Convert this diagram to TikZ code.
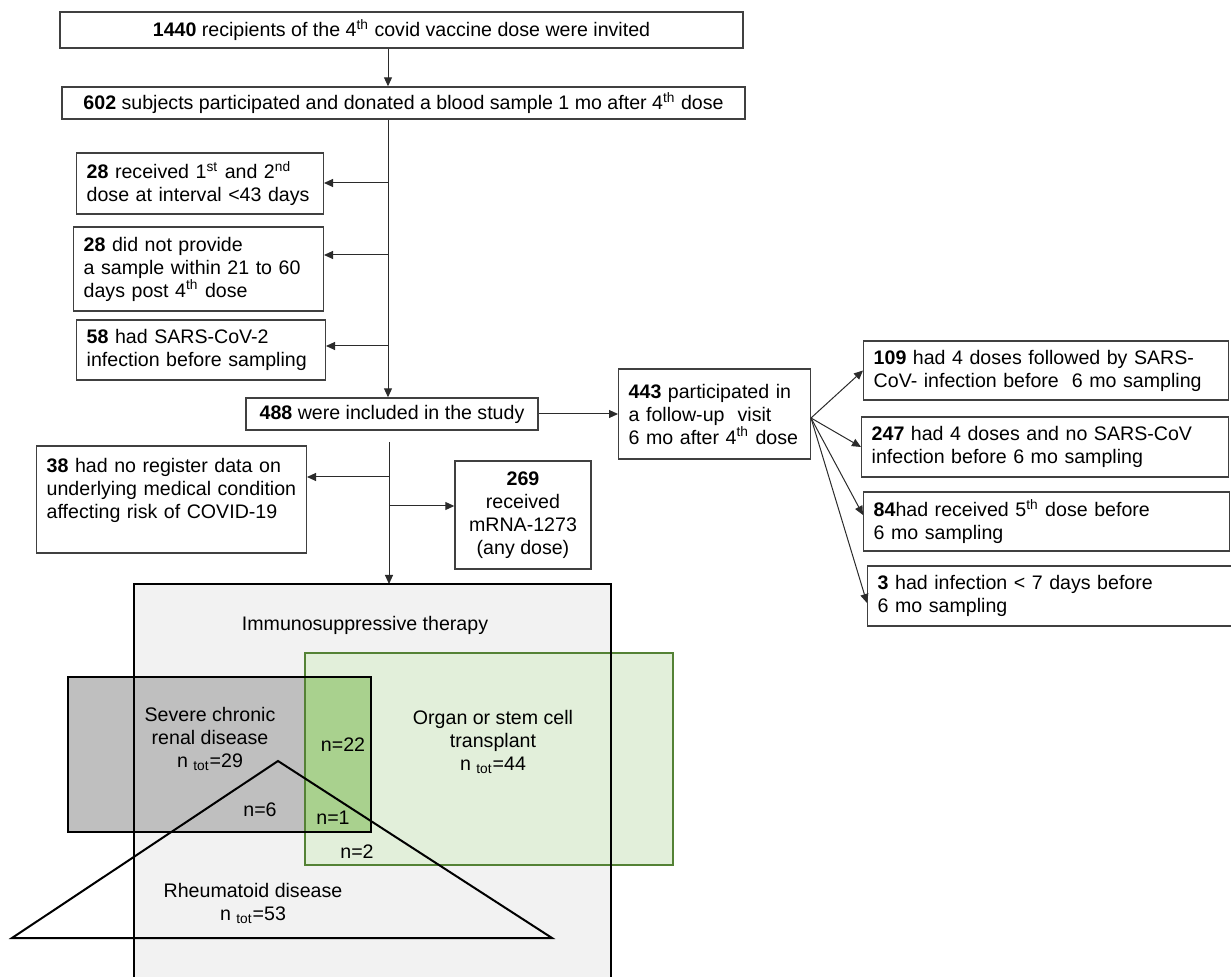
\documentclass[tikz,border=0pt]{standalone}
\usepackage{fontspec}
\setmainfont{Liberation Sans}
\usetikzlibrary{arrows.meta,positioning,calc}
\definecolor{Frame}{HTML}{404040}
\definecolor{Wire}{HTML}{2B2B2B}
\definecolor{ImmuneFill}{HTML}{F2F2F2}
\definecolor{RenalFill}{HTML}{BFBFBF}
\definecolor{GraftFill}{HTML}{E2EFDA}
\definecolor{GraftDark}{HTML}{A9D18E}
\definecolor{GraftLine}{HTML}{548235}
\newcommand{\flowfont}{\fontsize{9.8}{11.5}\selectfont}
\newcommand{\ordsup}[1]{\textsuperscript{#1}}

\begin{document}
\begin{tikzpicture}[x=0.5pt,y=-0.5pt,
  flowbox/.style={draw=Frame,line width=0.7pt,fill=white,font=\flowfont,inner xsep=5pt,inner ysep=2pt},
  leftbox/.style={flowbox,align=left},
  midbox/.style={flowbox,align=center},
  wire/.style={draw=Wire,line width=0.5pt},
  arr/.style={wire,-{Triangle[length=4.5pt,width=4pt]}},
  venntext/.style={font=\flowfont,align=center,inner sep=0pt}]
\useasboundingbox (0,0) rectangle (1231,977);

% main flow
\node[midbox,minimum width=341.5pt,minimum height=18pt] (invited) at (401.5,30) {\textbf{1440} recipients of the 4\ordsup{th} covid vaccine dose were invited};
\node[midbox,minimum width=341.5pt,minimum height=16pt] (donated) at (403.5,103) {\textbf{602} subjects participated and donated a blood sample 1 mo after 4\ordsup{th} dose};
\node[leftbox,text width=113.3pt,minimum height=30.5pt] (interval) at (200,183.5) {\textbf{28} received 1\ordsup{st} and 2\ordsup{nd}\\dose at interval <43 days};
\node[leftbox,text width=114.8pt,minimum height=42pt] (window) at (198.5,269) {\textbf{28} did not provide\\a sample within 21 to 60\\days post 4\ordsup{th} dose};
\node[leftbox,text width=114.3pt,minimum height=30pt] (infected) at (201,350) {\textbf{58} had SARS-CoV-2\\infection before sampling};
\node[midbox,minimum width=146pt,minimum height=16pt] (included) at (392,414) {\textbf{488} were included in the study};

% second level
\node[leftbox,text width=85.8pt,minimum height=45pt] (followup) at (714.5,414) {\textbf{443} participated in\\a follow-up\ \ visit\\6 mo after 4\ordsup{th} dose};
\node[leftbox,text width=124.8pt,minimum height=53.5pt] (noregister) at (171.5,499.5) {\textbf{38} had no register data on\\underlying medical condition\\affecting risk of COVID-19\\\mbox{}};
\node[midbox,minimum width=68pt,minimum height=54pt] (moderna) at (523,515) {\textbf{269}\\received\\mRNA-1273\\(any dose)};

% 6 mo outcomes
\node[leftbox,text width=172.3pt,minimum height=29.5pt] (breakthrough) at (1046,370.5) {\textbf{109} had 4 doses followed by SARS-\\CoV- infection before\ \ 6 mo sampling};
\node[leftbox,text width=173.3pt,minimum height=30pt] (noinfection) at (1045,447) {\textbf{247} had 4 doses and no SARS-CoV\\infection before 6 mo sampling};
\node[leftbox,text width=172.8pt,minimum height=29.5pt] (fifthdose) at (1046.5,521.5) {\textbf{84}had received 5\ordsup{th} dose before\\6 mo sampling};
\node[leftbox,text width=173.3pt,minimum height=30pt] (recent) at (1051,596) {\textbf{3} had infection < 7 days before\\6 mo sampling};

% connectors
\coordinate (spine) at (388,0);
\draw[arr] (invited.south -| spine) -- (donated.north -| spine);
\draw[arr] (donated.south -| spine) -- (included.north -| spine);
\coordinate (tap1) at (388,183);
\coordinate (tap2) at (388,255);
\coordinate (tap3) at (388,346);
\draw[arr] (tap1) -- (tap1 -| interval.east);
\draw[arr] (tap2) -- (tap2 -| window.east);
\draw[arr] (tap3) -- (tap3 -| infected.east);
\draw[arr] (included.east) -- (included.east -| followup.west);
\coordinate (fan) at ([yshift=-2pt]followup.east);
\draw[arr] (fan) -- (breakthrough.west);
\draw[arr] (fan) -- (noinfection.west);
\draw[arr] (fan) -- ([yshift=3.25pt]fifthdose.west);
\draw[arr] (fan) -- ([yshift=-3.5pt]recent.west);
\coordinate (stem) at (389,442);
\coordinate (immunetop) at (389,584);
\coordinate (tap4) at (389,477);
\coordinate (tap5) at (389,506);
\draw[arr] (stem) -- (immunetop);
\draw[arr] (tap4) -- (tap4 -| noregister.east);
\draw[arr] (tap5) -- (tap5 -| moderna.west);

% venn of risk groups
\fill[ImmuneFill] (134,584) rectangle (611,1000);
\fill[GraftFill] (305,653) rectangle (673,865);
\fill[RenalFill] (68,677) rectangle (371,832);
\fill[GraftDark] (305,677) rectangle (371,832);
\draw[GraftLine,line width=1.2pt] (305,653) rectangle (673,865);
\draw[line width=1.4pt] (68,677) rectangle (371,832);
\draw[line width=0.75pt] (134,1000) -- (134,584) -- (611,584) -- (611,1000);
\draw[line width=1pt,line join=miter] (12,938) -- (278,761) -- (552,938) -- cycle;

\node[venntext] (immunelbl) at (365,625) {Immunosuppressive therapy};
\node[venntext] (renallbl) at (210,739) {Severe chronic\\renal disease\\n \textsubscript{tot}=29};
\node[venntext] (graftlbl) at (493,742) {Organ or stem cell\\transplant\\n \textsubscript{tot}=44};
\node[venntext] (rheumlbl) at (253,903) {Rheumatoid disease\\n \textsubscript{tot}=53};
\node[venntext] (n22) at (343,745) {n=22};
\node[venntext] (n6) at (260,810) {n=6};
\node[venntext] (n1) at (333,818) {n=1};
\node[venntext] (n2) at (357,852) {n=2};
\end{tikzpicture}
\end{document}
